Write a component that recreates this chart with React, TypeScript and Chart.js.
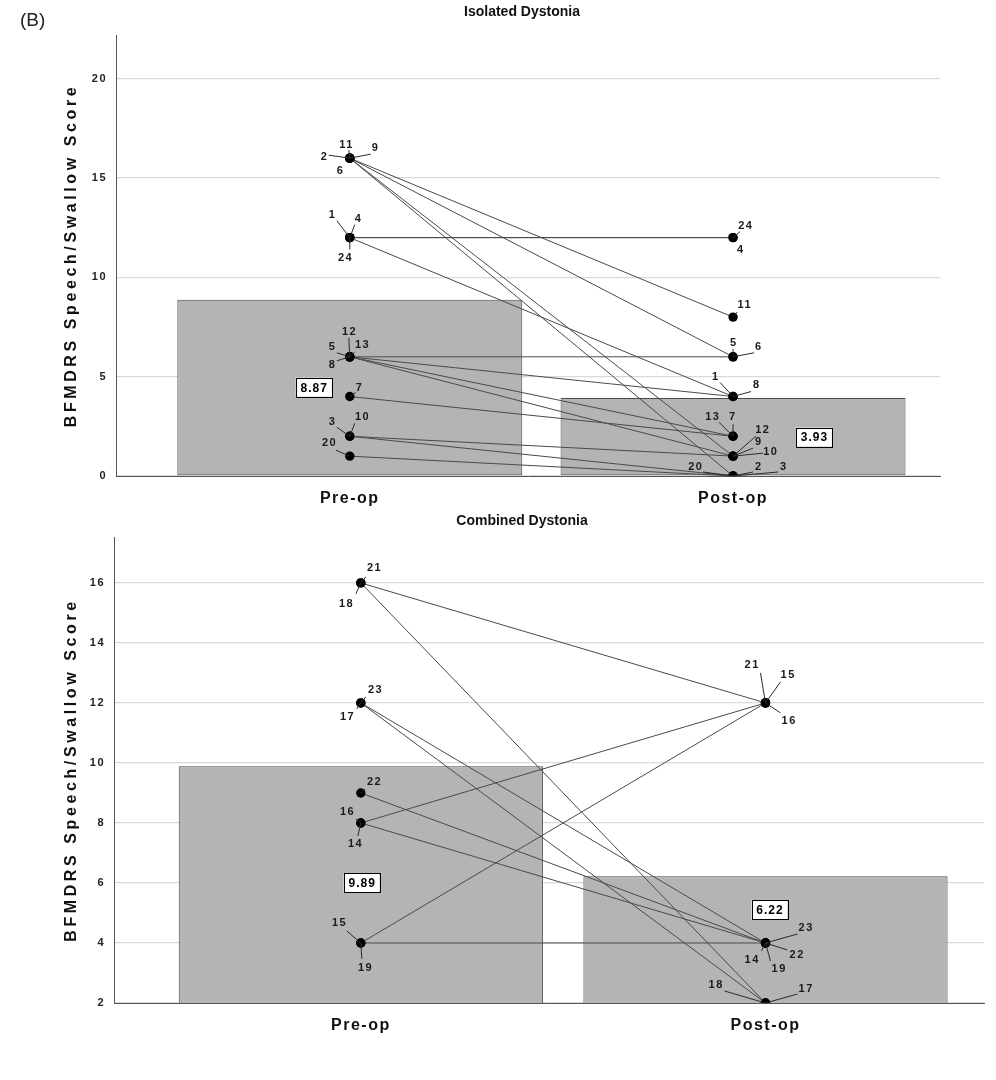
import React, { useEffect, useRef } from 'react';
import { Chart, registerables } from 'chart.js';

Chart.register(...registerables);

const phases = ['Pre-op', 'Post-op'];

// Isolated dystonia
const isoPatients = [1, 2, 3, 4, 5, 6, 7, 8, 9, 10, 11, 12, 13, 20, 24];
const isoPre = [12, 16, 2, 12, 6, 16, 4, 6, 16, 2, 16, 6, 6, 1, 12];
const isoPost = [4, 0, 0, 12, 6, 6, 2, 4, 1, 1, 8, 1, 2, 0, 12];
const isoMeans = [8.87, 3.93];
const isoTicks = [0, 5, 10, 15, 20];

// Combined dystonia
const comPatients = [14, 15, 16, 17, 18, 19, 21, 22, 23];
const comPre = [8, 4, 8, 12, 16, 4, 16, 9, 12];
const comPost = [4, 12, 12, 2, 2, 4, 12, 4, 4];
const comMeans = [9.89, 6.22];
const comTicks = [2, 4, 6, 8, 10, 12, 14, 16];

// label placement (px offsets from the point: label dx, dy, leader end lx, ly)
type Off = [number, number, number | null, number | null];
const isoPreOff: Off[] = [
  [-18, -23, -13, -17], [-26, -1, -21, -3], [-18, -14, -13, -9], [8, -19, 5, -13],
  [-18, -10, -13, -4], [-10, 13, null, null], [9, -9, 6, -4], [-18, 8, -13, 4],
  [25, -10, 21, -4], [12, -19, 5, -13], [-4, -13, -1, -8], [-1, -25, -1, -19],
  [12, -12, 5, -5], [-21, -13, -14, -6], [-5, 20, 0, 12],
];
const isoPostOff: Off[] = [
  [-18, -20, -13, -14], [25, -9, 20, -4], [50, -9, 45, -4], [7, 12, null, null],
  [0, -14, 0, -8], [25, -10, 21, -4], [-1, -19, 0, -12], [23, -12, 18, -5],
  [25, -14, 20, -8], [37, -4, 30, -3], [11, -12, 4, -5], [29, -26, 23, -20],
  [-21, -19, -14, -14], [-38, -9, -30, -4], [12, -12, 7, -6],
];
const comPreOff: Off[] = [
  [-6, 21, -3, 13], [-22, -20, -14, -12], [-14, -11, -5, -4], [-14, 14, -4, 6],
  [-15, 21, -5, 11], [4, 25, 1, 16], [13, -15, 5, -6], [13, -11, 4, -4], [14, -13, 5, -6],
];
const comPostOff: Off[] = [
  [-14, 17, -4, 8], [22, -28, 15, -21], [23, 18, 15, 10], [40, -14, 32, -9],
  [-50, -18, -41, -12], [13, 26, 5, 18], [-14, -38, -5, -30], [31, 12, 22, 7], [40, -15, 32, -9],
];
// mean label box anchors in data units [x, y]
const isoMeanPos = [[-0.094, 4.47], [1.211, 1.96]];
const comMeanPos = [[0.002, 6.0], [1.01, 5.1]];

const FONT = '"Liberation Sans", Arial, sans-serif';

interface Cfg {
  title: string;
  titleDy: number;
  patients: number[];
  pre: number[];
  post: number[];
  means: number[];
  ticks: number[];
  yMin: number;
  yMax: number;
  preOff: Off[];
  postOff: Off[];
  meanPos: number[][];
  padding: { left: number; right: number; top: number; bottom: number };
}

function makePlugin(c: Cfg) {
  return {
    id: 'annot',
    beforeDraw(chart: any) {
      chart.ctx.letterSpacing = '1.5px';
    },
    afterDatasetsDraw(chart: any) {
      const { ctx, scales } = chart;
      const x = scales.x, y = scales.y;
      ctx.save();
      ctx.letterSpacing = '1.5px';
      ctx.font = `bold 11px ${FONT}`;
      ctx.fillStyle = '#1a1a1a';
      ctx.strokeStyle = '#2a2a2a';
      ctx.lineWidth = 1;
      ctx.textAlign = 'center';
      ctx.textBaseline = 'middle';
      c.patients.forEach((p, i) => {
        const items: [number, number, Off][] = [
          [0, c.pre[i], c.preOff[i]],
          [1, c.post[i], c.postOff[i]],
        ];
        items.forEach(([xv, yv, off]) => {
          const px = x.getPixelForValue(xv);
          const py = y.getPixelForValue(yv);
          const [dx, dy, lx, ly] = off;
          if (lx !== null && ly !== null) {
            ctx.beginPath();
            ctx.moveTo(px, py);
            ctx.lineTo(px + lx, py + ly);
            ctx.stroke();
          }
          ctx.fillText(String(p), px + dx + 0.75, py + dy);
        });
      });
      // mean boxes
      ctx.font = `bold 12px ${FONT}`;
      ctx.letterSpacing = '1px';
      c.means.forEach((m, i) => {
        const px = x.getPixelForValue(c.meanPos[i][0]);
        const py = y.getPixelForValue(c.meanPos[i][1]);
        const w = 36, h = 19;
        ctx.fillStyle = '#fff';
        ctx.fillRect(px - w / 2, py - h / 2, w, h);
        ctx.strokeStyle = '#000';
        ctx.lineWidth = 1;
        ctx.strokeRect(Math.round(px - w / 2) + 0.5, Math.round(py - h / 2) + 0.5, w, h);
        ctx.fillStyle = '#000';
        ctx.fillText(m.toFixed(2), px + 0.5, py + 1);
      });
      ctx.restore();
    },
    afterDraw(chart: any) {
      const { ctx, chartArea } = chart;
      ctx.save();
      ctx.letterSpacing = '0px';
      ctx.fillStyle = '#111';
      ctx.textAlign = 'center';
      ctx.textBaseline = 'middle';
      ctx.font = `bold 14px ${FONT}`;
      ctx.fillText(c.title, chart.width / 2 + 24, chartArea.top + c.titleDy);
      // y-axis title
      ctx.translate(72, (chartArea.top + chartArea.bottom) / 2);
      ctx.rotate(-Math.PI / 2);
      ctx.font = `bold 16px ${FONT}`;
      ctx.letterSpacing = '3.6px';
      ctx.fillText('BFMDRS Speech/Swallow Score', 0, 0);
      ctx.restore();
    },
  };
}

function makeConfig(c: Cfg): any {
  const lineSets = c.patients.map((p, i) => ({
    type: 'line',
    label: String(p),
    data: [
      { x: 0, y: c.pre[i] },
      { x: 1, y: c.post[i] },
    ],
    borderColor: '#4a4a4a',
    borderWidth: 1,
    pointRadius: 4.7,
    pointBackgroundColor: '#000',
    pointBorderColor: '#000',
    pointBorderWidth: 0,
    clip: 0,
    order: 1,
  }));
  return {
    type: 'bar',
    data: {
      datasets: [
        {
          type: 'bar',
          label: 'mean',
          data: phases.map((_, i) => ({ x: i, y: c.means[i] })),
          backgroundColor: '#b4b4b4',
          borderColor: '#4a4a4a',
          borderWidth: 1,
          borderSkipped: false,
          categoryPercentage: 1,
          barPercentage: 0.9,
          order: 10,
        },
        ...lineSets,
      ],
    },
    options: {
      animation: false,
      responsive: false,
      devicePixelRatio: 1,
      layout: { padding: c.padding },
      plugins: {
        legend: { display: false },
        tooltip: { enabled: false },
        title: { display: false },
      },
      scales: {
        x: {
          type: 'linear',
          offset: false,
          min: -0.61,
          max: 1.54,
          afterBuildTicks: (s: any) => {
            s.ticks = phases.map((_, i) => ({ value: i }));
          },
          afterFit: (s: any) => {
            s.height = 32;
          },
          ticks: {
            callback: (v: any) => phases[v],
            font: { family: FONT, size: 16, weight: 'bold' },
            color: '#111',
            padding: 5,
            autoSkip: false,
            maxRotation: 0,
          },
          grid: { display: false, offset: false },
          border: { display: true, color: '#555', width: 1 },
        },
        y: {
          min: c.yMin,
          max: c.yMax,
          afterBuildTicks: (s: any) => {
            s.ticks = c.ticks.map((v) => ({ value: v }));
          },
          afterFit: (s: any) => {
            s.width = 56;
          },
          ticks: {
            font: { family: FONT, size: 11, weight: 'bold' },
            color: '#222',
            padding: 9,
          },
          grid: { color: '#d9d9d9', lineWidth: 1.3, drawTicks: false },
          border: { display: true, color: '#555', width: 1 },
          title: { display: false },
        },
      },
    },
    plugins: [makePlugin(c)],
  };
}

function ChartCanvas({ cfg, width, height }: { cfg: Cfg; width: number; height: number }) {
  const ref = useRef<HTMLCanvasElement | null>(null);
  useEffect(() => {
    if (!ref.current) return;
    const chart = new Chart(ref.current, makeConfig(cfg));
    return () => chart.destroy();
  }, [cfg]);
  return <canvas ref={ref} width={width} height={height} style={{ display: 'block', width, height }} />;
}

const isoCfg: Cfg = {
  title: 'Isolated Dystonia',
  titleDy: -23,
  patients: isoPatients,
  pre: isoPre,
  post: isoPost,
  means: isoMeans,
  ticks: isoTicks,
  yMin: 0,
  yMax: 22.2,
  preOff: isoPreOff,
  postOff: isoPostOff,
  meanPos: isoMeanPos,
  padding: { left: 60, right: 56, top: 35, bottom: 0 },
};

const comCfg: Cfg = {
  title: 'Combined Dystonia',
  titleDy: -16,
  patients: comPatients,
  pre: comPre,
  post: comPost,
  means: comMeans,
  ticks: comTicks,
  yMin: 2,
  yMax: 17.53,
  preOff: comPreOff,
  postOff: comPostOff,
  meanPos: comMeanPos,
  padding: { left: 58, right: 12, top: 29, bottom: 13 },
};

export default function App() {
  return (
    <div style={{ position: 'fixed', left: 0, top: 0, width: 996, height: 1080, background: '#fff' }}>
      <div
        style={{
          position: 'absolute',
          left: 20,
          top: 8,
          fontFamily: FONT,
          fontSize: 19,
          color: '#222',
          lineHeight: '24px',
        }}
      >
        (B)
      </div>
      <ChartCanvas cfg={isoCfg} width={996} height={508} />
      <ChartCanvas cfg={comCfg} width={996} height={540} />
    </div>
  );
}
